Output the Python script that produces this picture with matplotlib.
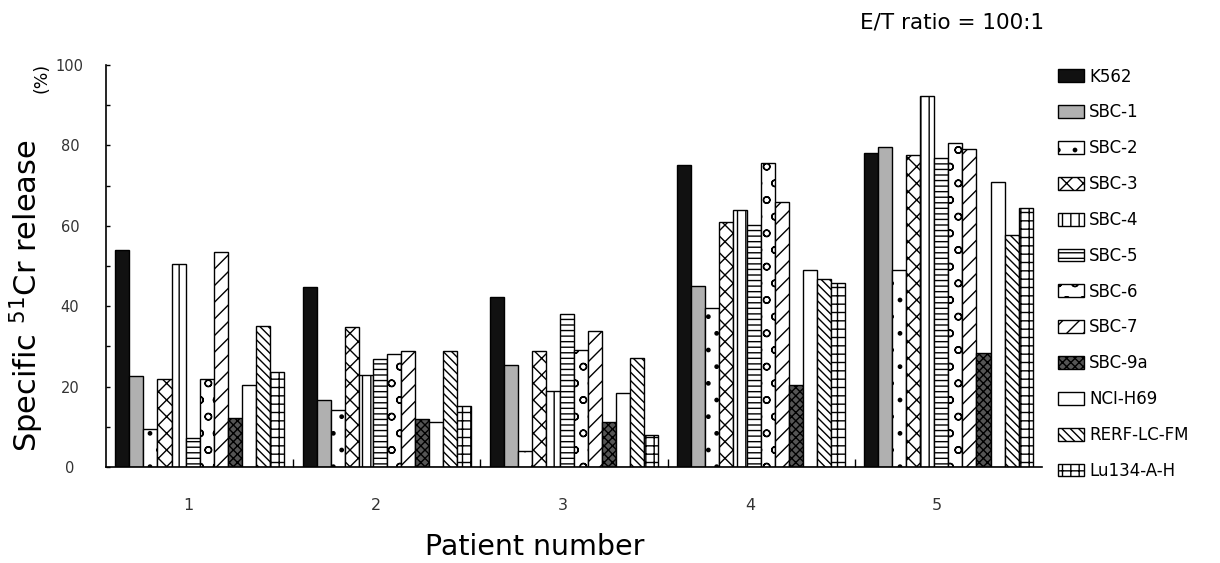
import matplotlib
matplotlib.use("Agg")
import matplotlib.pyplot as plt
import numpy as np
from matplotlib.patches import Patch

plt.rcParams['font.family'] = ['DejaVu Sans']
plt.rcParams['hatch.linewidth'] = 1.0

patients = ["1", "2", "3", "4", "5"]
cell_lines = ["K562", "SBC-1", "SBC-2", "SBC-3", "SBC-4", "SBC-5", "SBC-6",
              "SBC-7", "SBC-9a", "NCI-H69", "RERF-LC-FM", "Lu134-A-H"]

K562     = [54.0, 44.7, 42.3, 75.2, 78.0]
SBC_1    = [22.7, 16.7, 25.4, 45.0, 79.6]
SBC_2    = [9.4, 14.1, 4.0, 39.6, 49.0]
SBC_3    = [21.8, 34.8, 28.8, 61.0, 77.7]
SBC_4    = [50.4, 22.8, 18.9, 63.9, 92.2]
SBC_5    = [7.3, 26.8, 38.1, 60.1, 76.9]
SBC_6    = [21.8, 28.2, 29.1, 75.6, 80.6]
SBC_7    = [53.5, 28.8, 33.8, 65.9, 79.2]
SBC_9a   = [12.3, 12.0, 11.2, 20.5, 28.3]
NCI_H69  = [20.3, 11.2, 18.5, 49.0, 70.9]
RERF     = [35.0, 28.8, 27.2, 46.8, 57.8]
Lu134    = [23.7, 15.2, 7.9, 45.8, 64.4]

series = [K562, SBC_1, SBC_2, SBC_3, SBC_4, SBC_5, SBC_6, SBC_7,
          SBC_9a, NCI_H69, RERF, Lu134]

styles = [
    dict(facecolor='#111111', hatch=None),
    dict(facecolor='#b0b0b0', hatch=None),
    dict(facecolor='white', hatch='.'),
    dict(facecolor='white', hatch='xx'),
    dict(facecolor='white', hatch='||'),
    dict(facecolor='white', hatch='---'),
    dict(facecolor='white', hatch='o'),
    dict(facecolor='white', hatch='//'),
    dict(facecolor='#555555', hatch='xxxx'),
    dict(facecolor='white', hatch=None),
    dict(facecolor='white', hatch='\\\\\\\\'),
    dict(facecolor='white', hatch='++'),
]

W, H = 1220, 563
fig = plt.figure(figsize=(W / 100, H / 100), dpi=100)
ax = fig.add_axes([106 / W, 1 - 467 / H, (1042 - 106) / W, (467 - 65) / H])

n = len(series)
group_pad = 0.05
bw = (1 - 2 * group_pad) / n
x0 = np.arange(len(patients))
for j, (vals, st) in enumerate(zip(series, styles)):
    xs = x0 + group_pad + (j + 0.5) * bw
    ax.bar(xs, vals, width=bw, facecolor=st['facecolor'], edgecolor='black',
           hatch=st['hatch'], linewidth=1.0, zorder=2)

ax.set_xlim(0, len(patients))
ax.set_ylim(0, 100)
for s in ['top', 'right']:
    ax.spines[s].set_visible(False)
ax.spines['left'].set_linewidth(1.2)
ax.spines['bottom'].set_linewidth(1.2)

ax.set_yticks(np.arange(0, 101, 20))
ax.set_yticks(np.arange(0, 101, 10), minor=True)
ax.tick_params(axis='y', which='both', direction='in', length=3, width=1)
ax.tick_params(axis='y', which='major', pad=26, labelsize=10.5, labelcolor='#333333')
for lab in ax.get_yticklabels():
    lab.set_horizontalalignment('center')

ax.set_xticks(x0 + 0.44)
ax.set_xticklabels(patients)
ax.set_xticks(x0[1:], minor=True)
ax.tick_params(axis='x', which='major', length=0, pad=22, labelsize=11.5,
               labelcolor='#333333')
ax.tick_params(axis='x', which='minor', direction='in', length=6, width=1)

fig.text(535 / W, 1 - 547 / H, "Patient number", fontsize=20.5,
         ha='center', va='center')
fig.text(27 / W, 1 - 296 / H, r"Specific $^{51}$Cr release", fontsize=22,
         rotation=90, ha='center', va='center')
fig.text(41 / W, 1 - 78 / H, "(%)", fontsize=12.5, rotation=90,
         ha='center', va='center')
fig.text(952 / W, 1 - 22 / H, "E/T ratio = 100:1", fontsize=15.5,
         ha='center', va='center')

handles = [Patch(facecolor=st['facecolor'], edgecolor='black',
                 hatch=st['hatch'], linewidth=1.0) for st in styles]
fig.legend(handles, cell_lines, loc='upper left',
           bbox_to_anchor=(1046 / W, 1 - 56 / H), frameon=False,
           fontsize=12, handlelength=1.6, handleheight=0.8,
           labelspacing=1.07, handletextpad=0.3, borderpad=0.2)

fig.savefig("out.png", dpi=100)
